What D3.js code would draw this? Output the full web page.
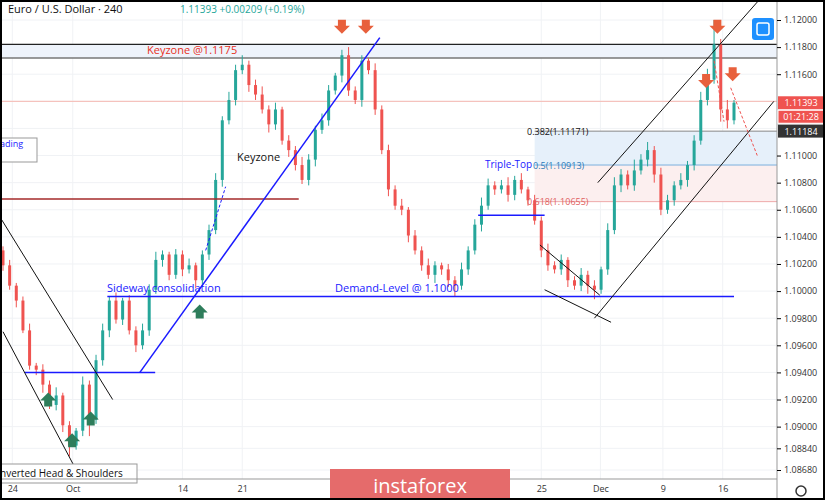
<!DOCTYPE html>
<html><head><meta charset="utf-8">
<script src="https://cdn.jsdelivr.net/npm/d3@7"></script>
<style>body{margin:0;background:#fff}svg{font-family:"Open Sans",Roboto,sans-serif}</style>
</head><body><svg id="c" width="825" height="500"></svg>
<script>
const firstOpen = 1.1030;
const closes = [1.1019,1.1004,1.0993,1.0971,1.0945,1.0942,1.0931,1.0916,1.0923,1.0901,1.0886,1.0897,1.0931,1.0905,1.0949,1.0971,1.0993,1.0979,1.0993,1.0971,1.0960,1.0971,1.1001,1.1023,1.1027,1.1012,1.1027,1.1016,1.1019,1.1008,1.1027,1.1045,1.1082,1.1126,1.1141,1.1163,1.1167,1.1152,1.1145,1.1134,1.1123,1.1134,1.1111,1.1104,1.1093,1.1082,1.1097,1.1119,1.1126,1.1148,1.1159,1.1174,1.1148,1.1141,1.1170,1.1163,1.1134,1.1104,1.1075,1.1063,1.1060,1.1041,1.1030,1.1019,1.1012,1.1019,1.1016,1.1008,1.1004,1.1016,1.1030,1.1049,1.1063,1.1078,1.1075,1.1078,1.1071,1.1082,1.1075,1.1067,1.1052,1.1030,1.1019,1.1016,1.1023,1.1008,1.1004,1.1012,1.1004,1.1001,1.1016,1.1045,1.1078,1.1086,1.1078,1.1089,1.1097,1.1104,1.1086,1.1060,1.1067,1.1078,1.1082,1.1093,1.1111,1.1141,1.1156,1.1182,1.1134,1.1126,1.1139];
const hiWick = [3,4,2,3,5,2,4,3,6,2,3,2,6,3,4,5,3,6,2,4,3,5,4,6,3,2,4,3,5,2,3,4,5,3,6,4,7,3,4,6,3,5,2,4,3,6,4,3,5,4,2,4,6,3,4,2,5,3,4,3,5,2,4,3,5,3,2,4,3,5,3,4,6,5,3,4,6,3,5,2,4,3,5,3,4,2,3,5,3,4,2,5,6,4,3,8,4,6,3,5,4,3,5,3,4,6,8,18,4,7,2];
const loWick = [4,3,5,2,3,4,6,3,4,5,8,3,4,12,3,4,5,3,4,3,5,3,4,3,5,4,3,5,3,6,3,4,3,5,3,4,3,5,4,3,6,4,3,5,4,3,4,5,3,4,3,5,4,3,5,3,4,3,5,3,4,5,3,4,3,6,4,5,8,3,4,3,5,3,4,3,5,4,3,4,3,5,4,3,4,5,3,4,6,7,3,4,3,5,3,4,3,5,6,4,3,4,3,5,4,3,4,3,9,6,3];
const dateLabels = ["24","Oct","14","21","25","Dec","9","16"];
const dateIdx = [1.4,10.5,27,36,81,89.9,99.3,108.3];
const priceTicks = [1.12,1.118,1.116,1.114,1.112,1.11,1.108,1.106,1.104,1.102,1.1,1.098,1.096,1.094,1.092,1.09,1.0884,1.0868];
const labelTicks = [1.12,1.118,1.116,1.11,1.108,1.106,1.104,1.102,1.1,1.098,1.096,1.094,1.092,1.09,1.0884,1.0868];

const svg = d3.select("#c");
const x = d3.scaleLinear().domain([0,110]).range([3,734]);
const y = d3.scaleLinear().domain([1.12,1.0868]).range([20,470]);
const R = 777, B = 479;
const g = svg.append("g");
priceTicks.forEach(t=>g.append("line").attr("x1",0).attr("x2",R).attr("y1",y(t)).attr("y2",y(t)).attr("stroke","#f0f2f5"));
dateIdx.forEach(d=>g.append("line").attr("x1",x(d)).attr("x2",x(d)).attr("y1",0).attr("y2",B).attr("stroke","#f0f2f5"));
svg.append("rect").attr("x",0).attr("y",y(1.1182)).attr("width",R).attr("height",y(1.1172)-y(1.1182)).attr("fill","#eef3fb");
svg.append("rect").attr("x",x(80)).attr("y",y(1.1118)).attr("width",R-x(80)).attr("height",y(1.1093)-y(1.1118)).attr("fill","#e6f0fa");
svg.append("rect").attr("x",x(80)).attr("y",y(1.1093)).attr("width",R-x(80)).attr("height",y(1.1066)-y(1.1093)).attr("fill","#fcefef");
function hl(p,x1,x2,c,w){svg.append("line").attr("x1",x1).attr("x2",x2).attr("y1",y(p)).attr("y2",y(p)).attr("stroke",c).attr("stroke-width",w||1);}
hl(1.1182,0,R,"#222",1.2); hl(1.1172,0,R,"#777",1.5);
hl(1.1140,0,R,"#f5b7b0",1);
hl(1.1118,x(80),R,"#888",1); hl(1.1093,x(80),R,"#7ab0de",1); hl(1.1066,x(80),R,"#eaa",1);
const data = closes.map((c,i)=>{const o=i?closes[i-1]:firstOpen;return {i,o,c,h:Math.max(o,c)+hiWick[i]/10000,l:Math.min(o,c)-loWick[i]/10000};});
const cg = svg.append("g");
data.forEach(d=>{const col=d.c>=d.o?"#26a69a":"#ef5350";
 cg.append("line").attr("x1",x(d.i)).attr("x2",x(d.i)).attr("y1",y(d.h)).attr("y2",y(d.l)).attr("stroke",col);
 cg.append("rect").attr("x",x(d.i)-1.5).attr("width",3).attr("y",y(Math.max(d.o,d.c))).attr("height",Math.max(1,Math.abs(y(d.o)-y(d.c)))).attr("fill",col);});
hl(1.1068,0,x(44.5),"#a52a2a",1.5);
hl(1.0996,x(15.7),x(110),"#1a1aff",1.5);
hl(1.0940,x(3.3),x(22.9),"#1a1aff",1.5);
hl(1.1056,x(71.5),x(81.5),"#1a1aff",1.5);
function ln(i1,p1,i2,p2,c,w){svg.append("line").attr("x1",x(i1)).attr("y1",y(p1)).attr("x2",x(i2)).attr("y2",y(p2)).attr("stroke",c).attr("stroke-width",w||1);}
ln(20.6,1.0940,56.7,1.1187,"#1a1aff",1.5);
ln(89.5,1.1080,114,1.1216,"#111");
ln(89,1.0980,116,1.1140,"#111");
ln(-0.5,1.1055,16.5,1.0920,"#111");
ln(0,1.0970,10.8,1.0870,"#111");
ln(80.8,1.1034,89.8,1.0997,"#111");
ln(81.5,1.1001,91.5,1.0977,"#111");
function dl(pts,c){svg.append("path").attr("d",d3.line()(pts.map(p=>[x(p[0]),y(p[1])]))).attr("fill","none").attr("stroke",c).attr("stroke-dasharray","3,2");}
dl([[30.5,1.1030],[33.5,1.1077]],"#1a1aff"); dl([[109.5,1.1150],[113.5,1.1100]],"#ef5350"); dl([[107,1.1170],[108.5,1.1125]],"#ef5350");
function arrow(i,p,down,col){const cx=x(i),cy=y(p);const s=down?1:-1;
 svg.append("path").attr("d",`M${cx-4},${cy-7*s}h8v${6*s}h4l-8,${8*s}l-8,${-8*s}h4z`).attr("fill",col);}
[[51,1.1195],[54.6,1.1195],[107.5,1.1195],[105.8,1.1155],[109.8,1.1160]].forEach(a=>arrow(a[0],a[1],true,"#e8603c"));
[[6.8,1.0920],[10.4,1.0890],[13.2,1.0906],[29.6,1.0985]].forEach(a=>arrow(a[0],a[1],false,"#2e7d5b"));
function tx(t,xx,yy,c,s,a){svg.append("text").attr("x",xx).attr("y",yy).attr("fill",c).attr("font-size",s||11).attr("text-anchor",a||"start").text(t);}
tx("Keyzone @1.1175",147,54,"#e8301c",11);
tx("Keyzone",237,161,"#111",11);
tx("Sideway consolidation",107,292,"#1a1aff",11);
tx("Demand-Level @ 1.1000",335,292,"#1a1aff",11);
tx("Triple-Top",485,168,"#1a1aff",10);
tx("0.382(1.11171)",527,135,"#111",9);
tx("0.5(1.10913)",533,169,"#2a7ab8",9);
tx("0.618(1.10655)",527,205,"#e06060",9);
svg.append("rect").attr("x",-1).attr("y",138).attr("width",38).attr("height",24).attr("fill","#fff").attr("stroke","#999");
tx("ading",0,147,"#1a1aff",9);
svg.append("rect").attr("x",-1).attr("y",464).attr("width",138).attr("height",19).attr("fill","#fff").attr("stroke","#999");
tx("nverted Head & Shoulders",0,477,"#111",10);
svg.append("line").attr("x1",R).attr("x2",R).attr("y1",0).attr("y2",500).attr("stroke","#999");
svg.append("line").attr("x1",0).attr("x2",R).attr("y1",B).attr("y2",B).attr("stroke","#999");
const ya = svg.append("g").attr("transform",`translate(${R},0)`).call(d3.axisRight(y).tickValues(labelTicks).tickSize(4).tickFormat(d3.format(".5f")));
ya.select(".domain").remove(); ya.selectAll("text").attr("font-size",9).attr("fill","#333").attr("font-family","Open Sans");
const xa = svg.append("g").attr("transform",`translate(0,${B})`).call(d3.axisBottom(x).tickValues(dateIdx).tickSize(0).tickFormat((d,i)=>dateLabels[i]));
xa.select(".domain").remove(); xa.selectAll("text").attr("font-size",9).attr("fill","#333").attr("dy","1.1em").attr("font-family","Open Sans");
function tag(p,t,bg,fg,stroke){const yy=y(p);svg.append("rect").attr("x",R+1).attr("y",yy-6).attr("width",46).attr("height",13).attr("fill",bg).attr("stroke",stroke||"none");
 tx(t,R+24,yy+4,fg,9,"middle");}
tag(1.11393,"1.11393","#ef5350","#fff"); tag(1.1129,"01:21:28","#ef5350","#fff","#fff"); tag(1.11184,"1.11184","#333","#fff");
tx("Euro / U.S. Dollar · 240",8,13,"#111",11);
tx("1.11393  +0.00209 (+0.19%)",180,13,"#26a69a",10);
svg.append("rect").attr("x",752).attr("y",18).attr("width",22).attr("height",22).attr("rx",3).attr("fill","#1e90ff");
svg.append("rect").attr("x",757).attr("y",23).attr("width",12).attr("height",12).attr("rx",2).attr("fill","none").attr("stroke","#fff").attr("stroke-width",1.5);
svg.append("rect").attr("x",330).attr("y",469).attr("width",180).attr("height",31).attr("fill","#e56b6b");
tx("instaforex",420,493,"#fff",20,"middle");
svg.append("rect").attr("x",1).attr("y",1).attr("width",823).attr("height",498).attr("fill","none").attr("stroke","#000").attr("stroke-width",2);
svg.append("circle").attr("cx",801).attr("cy",491).attr("r",5).attr("fill","none").attr("stroke","#333").attr("stroke-width",1.5);
</script></body></html>
